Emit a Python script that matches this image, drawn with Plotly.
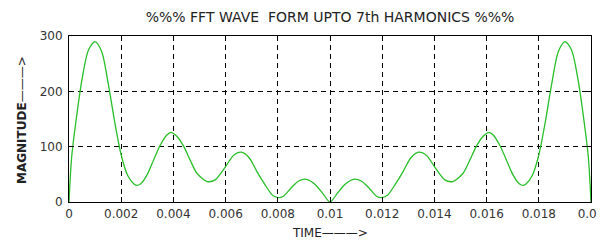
import plotly.graph_objects as go

# time (s) and magnitude values
time_s = [0, 0.0001, 0.00025, 0.0005, 0.00075, 0.001, 0.00125, 0.0015, 0.00175, 0.002,
          0.00225, 0.0025, 0.0026, 0.00275, 0.003, 0.00325, 0.0035, 0.00375, 0.0039, 0.00415,
          0.0044, 0.00465, 0.0049, 0.0053, 0.0056, 0.006, 0.0063, 0.0066, 0.0069, 0.0072,
          0.0075, 0.0078, 0.008, 0.0082, 0.0085, 0.0088, 0.0091, 0.0094, 0.0097, 0.01,
          0.0103, 0.0106, 0.0109, 0.0112, 0.0115, 0.0118, 0.012, 0.0122, 0.0125, 0.0128,
          0.0131, 0.0134, 0.0137, 0.014, 0.0144, 0.0147, 0.0151, 0.01535, 0.0156, 0.01585,
          0.0161, 0.01625, 0.0165, 0.01675, 0.017, 0.01725, 0.0174, 0.0175, 0.01775, 0.018,
          0.01825, 0.0185, 0.01875, 0.019, 0.01925, 0.0195, 0.01975, 0.0199, 0.02]
magnitude = [0, 80, 140, 222, 275, 290, 272, 215, 145, 85,
             48, 32, 30, 33, 50, 77, 103, 121, 126, 118,
             100, 75, 52, 37, 40, 64, 84, 90, 80, 55,
             32, 12, 8, 10, 25, 38, 41, 33, 17, 0,
             17, 33, 41, 38, 25, 10, 8, 12, 32, 55,
             80, 90, 84, 64, 40, 37, 52, 75, 100, 118,
             126, 121, 103, 77, 50, 33, 30, 32, 48, 85,
             145, 215, 272, 290, 275, 222, 140, 80, 0]

x_tickvals = [0, 0.002, 0.004, 0.006, 0.008, 0.01, 0.012, 0.014, 0.016, 0.018, 0.02]
x_ticktext = ["0", "0.002", "0.004", "0.006", "0.008", "0.01", "0.012", "0.014", "0.016", "0.018", "0.02"]
y_tickvals = [0, 100, 200, 300]
y_ticktext = ["0", "100", "200", "300"]

title_text = "%%% FFT WAVE  FORM UPTO 7th HARMONICS %%%"
x_label = "TIME\u2014\u2014\u2014>"
y_label = "<b>MAGNITUDE</b>\u2014\u2014\u2014>"

FONT = "DejaVu Sans"

# the page body adds an 8px offset; the figure is sized to fill the rest of the window
OFF = 8
W, H = 605 - OFF, 243 - OFF
L, T = 69 - OFF, 36 - OFF
PW, PH = 522, 166
R, B = W - L - PW, H - T - PH

fig = go.Figure()
fig.add_trace(go.Scatter(
    x=time_s, y=magnitude, mode="lines",
    line=dict(color="rgb(40,190,40)", width=1.3, shape="spline", smoothing=0.8),
    showlegend=False, hoverinfo="skip"))

axis_common = dict(
    showline=True, linecolor="black", linewidth=1, mirror="ticks",
    ticks="inside", ticklen=5, tickcolor="black", tickwidth=1,
    showgrid=True, gridcolor="black", gridwidth=1, griddash="5px,4px",
    zeroline=False, automargin=False,
    tickfont=dict(family=FONT, size=12, color="#333"),
)

fig.update_xaxes(range=[0, 0.02], tickvals=x_tickvals, ticktext=x_ticktext,
                 ticklabelstandoff=1, **axis_common)
fig.update_yaxes(range=[0, 300], tickvals=y_tickvals, ticktext=y_ticktext,
                 ticklabelstandoff=3, **axis_common)

fig.update_layout(
    width=W, height=H,
    margin=dict(l=L, r=R, t=T, b=B),
    paper_bgcolor="white", plot_bgcolor="white",
    title=dict(text=title_text, xref="paper", x=0.5, xanchor="center",
               y=1 - (17 - OFF) / H, yanchor="middle", automargin=False,
               font=dict(family=FONT, size=14, color="#222")),
    annotations=[
        dict(text=x_label, xref="paper", yref="paper", x=0.5, y=(202 - 233) / PH,
             xanchor="center", yanchor="middle", showarrow=False,
             font=dict(family=FONT, size=12, color="#222")),
        dict(text=y_label, xref="paper", yref="paper", x=(22 - 69) / PW, y=(202 - 120) / PH,
             xanchor="center", yanchor="middle", showarrow=False, textangle=-90,
             font=dict(family=FONT, size=12, color="#222")),
    ],
)

fig.write_html("out.html")
